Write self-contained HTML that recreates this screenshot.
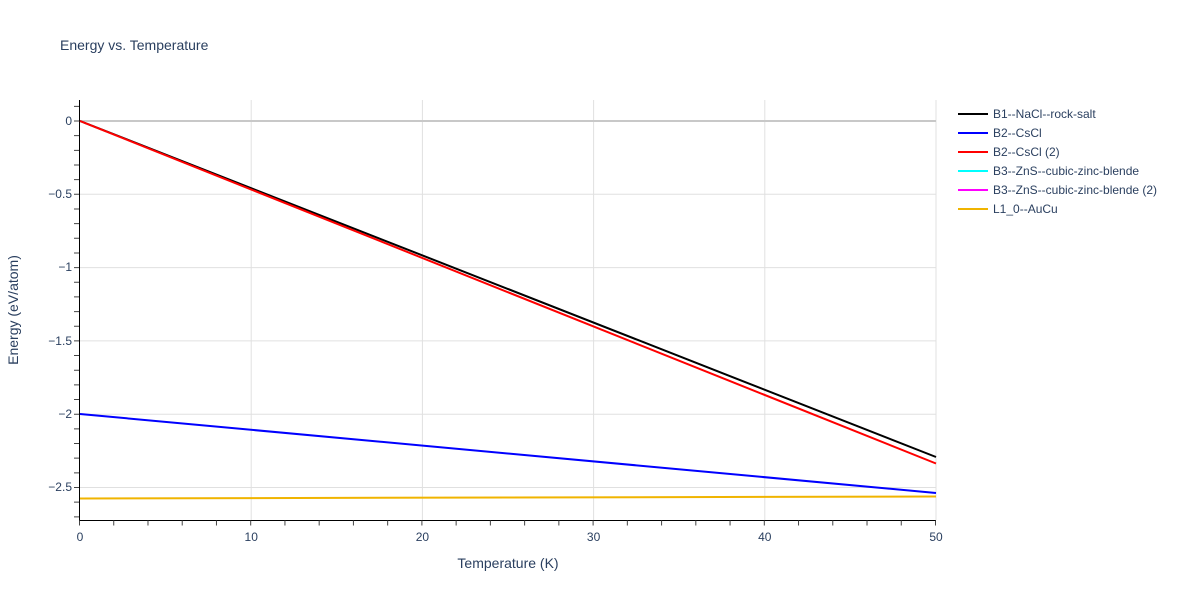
<!DOCTYPE html>
<html><head><meta charset="utf-8"><style>body{margin:0;background:#fff}svg{display:block;font-family:"Liberation Sans",Arial,sans-serif}</style></head><body>
<svg width="1200" height="600" viewBox="0 0 1200 600">
<rect width="1200" height="600" fill="#fff"/>
<text x="60" y="50" font-size="14" fill="#2a3f5f">Energy vs. Temperature</text>
<g stroke="#e0e0e0" stroke-width="1">
<line x1="251.2" y1="100" x2="251.2" y2="520"/><line x1="422.4" y1="100" x2="422.4" y2="520"/><line x1="593.6" y1="100" x2="593.6" y2="520"/><line x1="764.8" y1="100" x2="764.8" y2="520"/><line x1="936" y1="100" x2="936" y2="520"/>
<line x1="80" y1="194.3" x2="936" y2="194.3"/><line x1="80" y1="267.6" x2="936" y2="267.6"/><line x1="80" y1="340.9" x2="936" y2="340.9"/><line x1="80" y1="414.2" x2="936" y2="414.2"/><line x1="80" y1="487.5" x2="936" y2="487.5"/>
</g>
<line x1="80" y1="121" x2="936" y2="121" stroke="#c8c8c8" stroke-width="2"/>
<line x1="79.5" y1="100" x2="79.5" y2="521" stroke="#000"/>
<line x1="79" y1="520.5" x2="936" y2="520.5" stroke="#000"/>
<line x1="76.5" y1="105.84" x2="76.5" y2="520" stroke="#444" stroke-width="5" stroke-dasharray="1 13.66"/>
<line x1="79" y1="523" x2="937" y2="523" stroke="#444" stroke-width="5" stroke-dasharray="1 33.24"/>
<g font-size="12" fill="#2a3f5f" text-anchor="end">
<text x="72" y="125">0</text><text x="72" y="198">−0.5</text><text x="72" y="271">−1</text><text x="72" y="345">−1.5</text><text x="72" y="418">−2</text><text x="72" y="491">−2.5</text>
</g>
<g font-size="12" fill="#2a3f5f" text-anchor="middle">
<text x="80" y="541">0</text><text x="251.2" y="541">10</text><text x="422.4" y="541">20</text><text x="593.6" y="541">30</text><text x="764.8" y="541">40</text><text x="936" y="541">50</text>
</g>
<text x="508" y="568" font-size="14" fill="#2a3f5f" text-anchor="middle">Temperature (K)</text>
<text transform="translate(18,310) rotate(-90)" font-size="14" fill="#2a3f5f" text-anchor="middle">Energy (eV/atom)</text>
<g stroke-width="2" fill="none">
<line x1="80" y1="498.5" x2="936" y2="496.5" stroke="#f0b400"/>
<line x1="80" y1="414" x2="936" y2="493" stroke="#0000ff"/>
<line x1="80" y1="121" x2="936" y2="457" stroke="#000"/>
<line x1="80" y1="121" x2="936" y2="463.5" stroke="#ff0000"/>
</g>
<g font-size="12" fill="#2a3f5f" stroke-width="2">
<line x1="958" y1="114" x2="988" y2="114" stroke="#000"/><text x="993" y="118">B1--NaCl--rock-salt</text>
<line x1="958" y1="133" x2="988" y2="133" stroke="#0000ff"/><text x="993" y="137">B2--CsCl</text>
<line x1="958" y1="152" x2="988" y2="152" stroke="#ff0000"/><text x="993" y="156">B2--CsCl (2)</text>
<line x1="958" y1="171" x2="988" y2="171" stroke="#00ffff"/><text x="993" y="175">B3--ZnS--cubic-zinc-blende</text>
<line x1="958" y1="190" x2="988" y2="190" stroke="#ff00ff"/><text x="993" y="194">B3--ZnS--cubic-zinc-blende (2)</text>
<line x1="958" y1="209" x2="988" y2="209" stroke="#f0b400"/><text x="993" y="213">L1_0--AuCu</text>
</g>
</svg>
</body></html>
